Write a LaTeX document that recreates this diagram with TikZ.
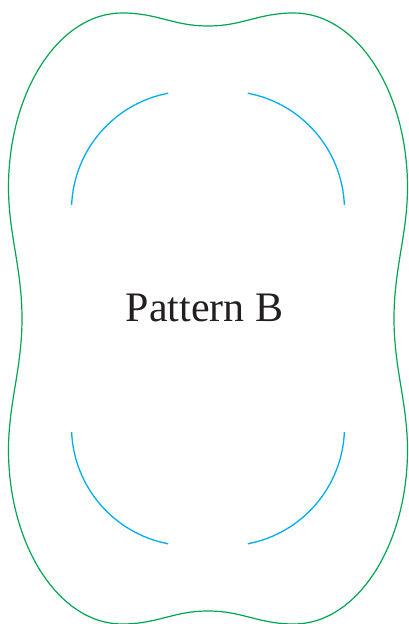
\documentclass[tikz,border=0pt]{standalone}
\usepackage{fontspec}
\setmainfont{Liberation Serif}
\usepackage{tikz}
\definecolor{PatternGreen}{RGB}{0,166,81}
\definecolor{PatternCyan}{RGB}{0,174,239}
\definecolor{PatternInk}{RGB}{35,31,32}
\begin{document}
\begin{tikzpicture}[x=1pt,y=1pt,outline/.style={draw=PatternGreen,line width=1.2pt},arcpart/.style={draw=PatternCyan,line width=1.3pt},lbl/.style={text=PatternInk,font=\fontsize{42}{50}\selectfont,inner sep=0pt,anchor=base}]
\useasboundingbox (-208,-305.5) rectangle (200,318.5);
\draw[outline] (0,292.5)
   .. controls (-35,292.5) and (-50,305.5) .. (-86,305.5)
   .. controls (-148.7,305.5) and (-199.5,227.4) .. (-199.5,131)
   .. controls (-199.5,85) and (-186,50) .. (-186,0)
   .. controls (-186,-50) and (-199.5,-85) .. (-199.5,-131)
   .. controls (-199.5,-227.4) and (-148.7,-305.5) .. (-86,-305.5)
   .. controls (-50,-305.5) and (-35,-292.5) .. (0,-292.5)
   .. controls (35,-292.5) and (50,-305.5) .. (86,-305.5)
   .. controls (148.7,-305.5) and (199.5,-227.4) .. (199.5,-131)
   .. controls (199.5,-85) and (186,-50) .. (186,0)
   .. controls (186,50) and (199.5,85) .. (199.5,131)
   .. controls (199.5,227.4) and (148.7,305.5) .. (86,305.5)
   .. controls (50,305.5) and (35,292.5) .. (0,292.5) -- cycle;
\foreach \cx/\cy/\a/\b in %
{-17.5/108.4/100.8/177.5,17.5/108.4/2.5/79.2,-17.5/-108.4/182.5/259.2,17.5/-108.4/280.8/357.5} {
   \draw[arcpart] (\cx,\cy) ++(\a:119) arc[start angle=\a,end angle=\b,radius=119];
}
\node[lbl] (title) at (-3.5,-2.5) {Pattern B};
\end{tikzpicture}
\end{document}
